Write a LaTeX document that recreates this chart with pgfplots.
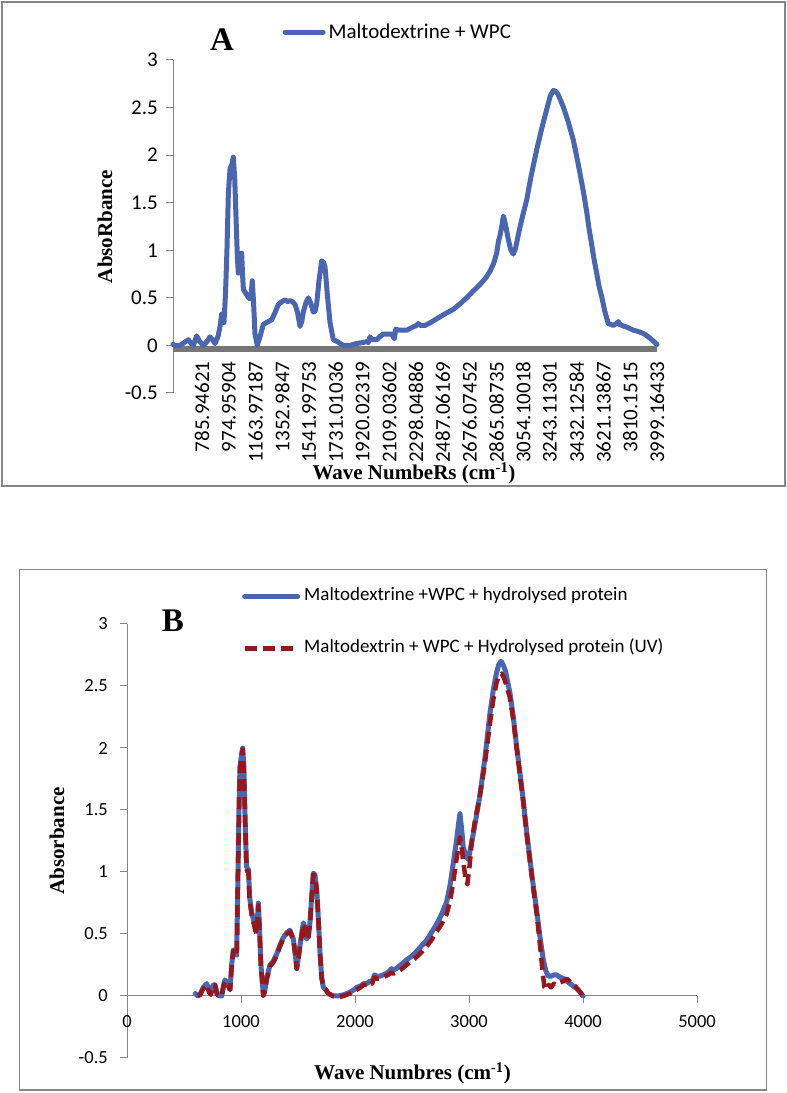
\documentclass[border=0pt]{standalone}
\usepackage{fontspec}
\setmainfont{Carlito}
\newfontfamily\tnr{Liberation Serif}
\usepackage{pgfplots}
\pgfplotsset{compat=1.18}
\definecolor{cblue}{RGB}{74,102,176}
\definecolor{cred}{RGB}{150,24,30}
\definecolor{fgray}{RGB}{134,134,134}
\definecolor{bargray}{RGB}{118,118,118}
\newcommand\fA{\fontsize{21}{21}\selectfont}
\newcommand\fB{\fontsize{18.5}{18.5}\selectfont}

\pgfplotstableread{
wn val
581 0.01
595 0.0
630 0.0
660 0.03
689 0.06
710 0.02
725 0.0
748 0.10
770 0.04
795 0.0
820 0.04
842 0.09
860 0.06
878 0.02
900 0.10
913 0.20
925 0.33
941 0.24
952 0.55
962 1.0
972 1.6
984 1.86
996 1.90
1007 1.98
1017 1.75
1026 1.35
1035 0.95
1042 0.76
1055 0.82
1066 0.97
1072 0.75
1078 0.59
1090 0.56
1102 0.53
1115 0.50
1125 0.49
1133 0.55
1141 0.68
1150 0.45
1160 0.12
1176 0.0
1195 0.09
1219 0.22
1240 0.24
1254 0.25
1278 0.27
1300 0.34
1325 0.43
1350 0.46
1372 0.48
1390 0.46
1407 0.47
1425 0.46
1443 0.43
1460 0.35
1478 0.20
1490 0.25
1501 0.35
1520 0.45
1537 0.50
1555 0.44
1572 0.35
1585 0.36
1596 0.44
1612 0.68
1631 0.89
1645 0.87
1655 0.82
1670 0.55
1690 0.24
1713 0.06
1741 0.04
1784 0.0
1830 0.0
1878 0.02
1920 0.03
1949 0.04
1960 0.03
1972 0.09
1985 0.06
2020 0.06
2040 0.09
2066 0.12
2100 0.12
2126 0.12
2144 0.07
2154 0.17
2180 0.16
2232 0.16
2270 0.19
2300 0.21
2313 0.23
2330 0.21
2361 0.21
2400 0.24
2443 0.28
2500 0.33
2561 0.38
2610 0.44
2655 0.50
2700 0.57
2749 0.64
2790 0.71
2820 0.78
2845 0.86
2867 0.97
2880 1.10
2890 1.15
2905 1.27
2914 1.36
2925 1.30
2947 1.13
2965 1.01
2984 0.96
3000 1.02
3025 1.20
3050 1.36
3079 1.53
3110 1.78
3150 2.06
3185 2.28
3220 2.48
3245 2.62
3267 2.68
3285 2.67
3300 2.64
3337 2.51
3370 2.36
3408 2.16
3430 2.00
3455 1.81
3480 1.61
3503 1.40
3520 1.22
3538 1.06
3555 0.90
3573 0.76
3590 0.62
3609 0.51
3630 0.36
3655 0.23
3675 0.22
3690 0.21
3712 0.23
3726 0.25
3738 0.22
3750 0.21
3790 0.19
3832 0.16
3860 0.15
3879 0.14
3910 0.12
3938 0.09
3970 0.05
3999 0.01
}\dataA

\pgfplotstableread{
wn val
600 0.02
620 0.0
640 0.01
670 0.07
699 0.10
720 0.04
735 0.02
755 0.09
772 0.09
790 0.02
810 0.0
831 0.0
845 0.08
860 0.13
880 0.10
904 0.05
918 0.25
932 0.37
948 0.37
962 0.33
972 0.9
982 1.5
991 1.85
1005 1.95
1015 2.0
1025 1.85
1035 1.47
1048 1.05
1058 1.02
1066 1.02
1075 0.80
1094 0.67
1108 0.62
1125 0.55
1138 0.52
1152 0.75
1160 0.60
1175 0.25
1196 0.01
1210 0.05
1225 0.14
1254 0.25
1283 0.28
1310 0.33
1342 0.41
1370 0.47
1401 0.51
1430 0.53
1459 0.46
1475 0.35
1489 0.22
1505 0.32
1518 0.41
1547 0.59
1562 0.55
1576 0.46
1590 0.48
1605 0.59
1620 0.80
1634 0.99
1648 0.98
1664 0.86
1680 0.60
1693 0.35
1708 0.15
1722 0.07
1745 0.05
1766 0.02
1810 0.0
1850 0.0
1900 0.01
1956 0.03
1990 0.05
2015 0.07
2050 0.08
2075 0.10
2103 0.10
2130 0.12
2150 0.11
2170 0.17
2190 0.16
2220 0.16
2248 0.17
2290 0.19
2320 0.22
2336 0.21
2360 0.22
2400 0.25
2450 0.29
2511 0.33
2570 0.39
2629 0.45
2670 0.51
2717 0.58
2760 0.66
2804 0.76
2835 0.90
2862 1.07
2890 1.25
2910 1.40
2921 1.47
2935 1.35
2950 1.20
2965 1.15
2994 1.10
3015 1.20
3038 1.31
3065 1.45
3096 1.62
3140 1.92
3184 2.28
3215 2.48
3240 2.60
3260 2.67
3281 2.70
3300 2.67
3320 2.62
3360 2.44
3390 2.24
3418 2.01
3447 1.80
3476 1.58
3505 1.33
3535 1.10
3565 0.88
3594 0.69
3622 0.48
3652 0.29
3675 0.20
3696 0.16
3720 0.16
3745 0.17
3769 0.17
3800 0.15
3830 0.14
3857 0.12
3900 0.09
3945 0.06
3975 0.03
4000 0.0
}\dataBblue

\pgfplotstableread{
wn val
620 0.0
640 0.01
670 0.06
699 0.09
720 0.03
735 0.01
755 0.08
772 0.09
790 0.01
810 0.0
831 0.0
845 0.07
860 0.12
880 0.10
904 0.05
918 0.24
932 0.36
948 0.36
962 0.32
972 0.88
982 1.48
991 1.83
1005 1.93
1015 1.99
1025 1.83
1035 1.45
1048 1.03
1058 1.00
1066 1.00
1075 0.78
1094 0.65
1108 0.60
1125 0.53
1138 0.50
1152 0.73
1160 0.58
1175 0.24
1196 0.0
1210 0.04
1225 0.13
1254 0.24
1283 0.27
1310 0.32
1342 0.40
1370 0.46
1401 0.50
1430 0.52
1459 0.45
1475 0.34
1489 0.22
1505 0.31
1518 0.40
1547 0.58
1562 0.54
1576 0.45
1590 0.47
1605 0.58
1620 0.79
1634 0.98
1648 0.97
1664 0.85
1680 0.59
1693 0.34
1708 0.14
1722 0.07
1745 0.05
1766 0.02
1810 0.0
1850 -0.01
1900 0.0
1956 0.02
1990 0.04
2015 0.05
2050 0.07
2075 0.09
2103 0.09
2130 0.11
2150 0.10
2170 0.15
2190 0.14
2220 0.14
2248 0.15
2290 0.17
2320 0.19
2336 0.18
2360 0.19
2400 0.21
2450 0.25
2511 0.29
2570 0.34
2629 0.40
2670 0.45
2717 0.52
2760 0.58
2804 0.66
2835 0.77
2862 0.92
2890 1.10
2910 1.22
2921 1.28
2935 1.20
2950 1.08
2970 0.95
2985 0.90
3005 1.05
3025 1.25
3050 1.40
3075 1.52
3096 1.62
3140 1.88
3184 2.20
3215 2.40
3240 2.52
3260 2.58
3285 2.60
3305 2.57
3330 2.50
3360 2.40
3390 2.22
3418 2.00
3447 1.78
3476 1.56
3505 1.31
3535 1.08
3565 0.86
3594 0.66
3622 0.42
3645 0.20
3662 0.07
3680 0.05
3700 0.09
3720 0.07
3745 0.10
3769 0.09
3800 0.11
3830 0.12
3857 0.14
3880 0.12
3900 0.10
3930 0.08
3960 0.05
3985 0.02
4000 0.0
}\dataBred

\begin{document}
\begin{tikzpicture}[x=1pt,y=1pt]
\useasboundingbox (0,0) rectangle (787,1093);
\draw[fgray, line width=1.6pt] (2,1091) rectangle (785,607);
\draw[fgray, line width=1.6pt] (19.5,523.5) rectangle (766.5,3);

% ---------------- Panel A
\begin{axis}[
  at={(173pt,700pt)}, anchor=south west,
  scale only axis, width=484pt, height=333pt,
  xmin=581, xmax=3999.16433, ymin=-0.5, ymax=3,
  axis x line=middle, axis y line=left,
  x axis line style={draw=none},
  y axis line style={draw=fgray, line width=1pt, -},
  hide obscured x ticks=false, hide obscured y ticks=false,
  clip=false,
  xtick={785.94621,974.95904,1163.97187,1352.9847,1541.99753,1731.01036,1920.02319,2109.03602,2298.04886,2487.06169,2676.07452,2865.08735,3054.10018,3243.11301,3432.12584,3621.13867,3810.1515,3999.16433},
  xticklabels={{\fA 785.94621},{\fA 974.95904},{\fA 1163.97187},{\fA 1352.9847},{\fA 1541.99753},{\fA 1731.01036},{\fA 1920.02319},{\fA 2109.03602},{\fA 2298.04886},{\fA 2487.06169},{\fA 2676.07452},{\fA 2865.08735},{\fA 3054.10018},{\fA 3243.11301},{\fA 3432.12584},{\fA 3621.13867},{\fA 3810.1515},{\fA 3999.16433}},
  xtick style={draw=none},
  xticklabel style={rotate=90, anchor=east, inner sep=0pt, font=\fA, xshift=-9pt},
  ytick={-0.5,0,0.5,1,1.5,2,2.5,3},
  yticklabels={{\fA -0.5},{\fA 0},{\fA 0.5},{\fA 1},{\fA 1.5},{\fA 2},{\fA 2.5},{\fA 3}},
  ytick style={draw=fgray, line width=1pt},
  tick align=outside, major tick length=7pt,
  yticklabel style={anchor=east, inner sep=0pt, font=\fA, xshift=-8pt},
  legend style={at={(0.2260,1.084)}, anchor=west, draw=none, fill=none, inner sep=0pt,
     nodes={inner sep=0pt, font=\fA},
     /tikz/every odd column/.append style={column sep=3pt}},
  legend cell align=left,
  legend image code/.code={\draw[#1] (0pt,0pt) -- (38pt,0pt);},
]
\addplot[bargray, line width=6.5pt, forget plot] coordinates {(581,-0.035) (3999.16433,-0.035)};
\addplot[cblue, line width=5pt, line join=round, line cap=round] table[x=wn, y=val] {\dataA};
\addlegendentry{Maltodextrine + WPC}
\end{axis}
\node[font=\tnr\bfseries\fontsize{33}{33}\selectfont, anchor=base] at (222,1042) {A};
\node[font=\tnr\bfseries\fontsize{21}{21}\selectfont, rotate=90] at (105,866.5) {AbsoRbance};
\node[font=\tnr\bfseries\fontsize{21}{21}\selectfont, anchor=base] at (414,613) {Wave NumbeRs (cm\textsuperscript{-1})};

% ---------------- Panel B
\begin{axis}[
  at={(127pt,35pt)}, anchor=south west,
  scale only axis, width=570pt, height=434pt,
  xmin=0, xmax=5000, ymin=-0.5, ymax=3,
  axis x line=middle, axis y line=left,
  x axis line style={draw=fgray, line width=1pt, -},
  y axis line style={draw=fgray, line width=1pt, -},
  hide obscured x ticks=false, hide obscured y ticks=false,
  clip=false,
  xtick={0,1000,2000,3000,4000,5000},
  xticklabels={{\fB 0},{\fB 1000},{\fB 2000},{\fB 3000},{\fB 4000},{\fB 5000}},
  xtick style={draw=fgray, line width=1pt},
  xticklabel style={anchor=north, inner sep=0pt, font=\fB, yshift=-12pt},
  ytick={-0.5,0,0.5,1,1.5,2,2.5,3},
  yticklabels={{\fB -0.5},{\fB 0},{\fB 0.5},{\fB 1},{\fB 1.5},{\fB 2},{\fB 2.5},{\fB 3}},
  ytick style={draw=fgray, line width=1pt},
  tick align=outside, major tick length=7pt,
  yticklabel style={anchor=east, inner sep=0pt, font=\fB, xshift=-12pt},
  legend style={at={(0.2018,1.0035)}, anchor=west, draw=none, fill=none, inner sep=0pt,
     row sep=35pt,
     nodes={inner sep=0pt, text height=13pt, text depth=4pt, font=\fontsize{19}{19}\selectfont},
     /tikz/every odd column/.append style={column sep=4pt}},
  legend cell align=left,
  legend image code/.code={\draw[#1] (0pt,0pt) -- (53pt,0pt);},
]
\addplot[cblue, line width=5pt, line join=round, line cap=round] table[x=wn, y=val] {\dataBblue};
\addlegendentry{Maltodextrine +WPC + hydrolysed protein}
\addplot[cred, line width=4.5pt, line join=round, dash pattern=on 12pt off 6pt] table[x=wn, y=val] {\dataBred};
\addlegendentry{Maltodextrin + WPC + Hydrolysed protein (UV)}
\end{axis}
\node[font=\tnr\bfseries\fontsize{33}{33}\selectfont, anchor=base] at (173,461) {B};
\node[font=\tnr\bfseries\fontsize{21}{21}\selectfont, rotate=90] at (57,252) {Absorbance};
\node[font=\tnr\bfseries\fontsize{21}{21}\selectfont, anchor=base] at (412.5,13) {Wave Numbres (cm\textsuperscript{-1})};
\end{tikzpicture}
\end{document}
